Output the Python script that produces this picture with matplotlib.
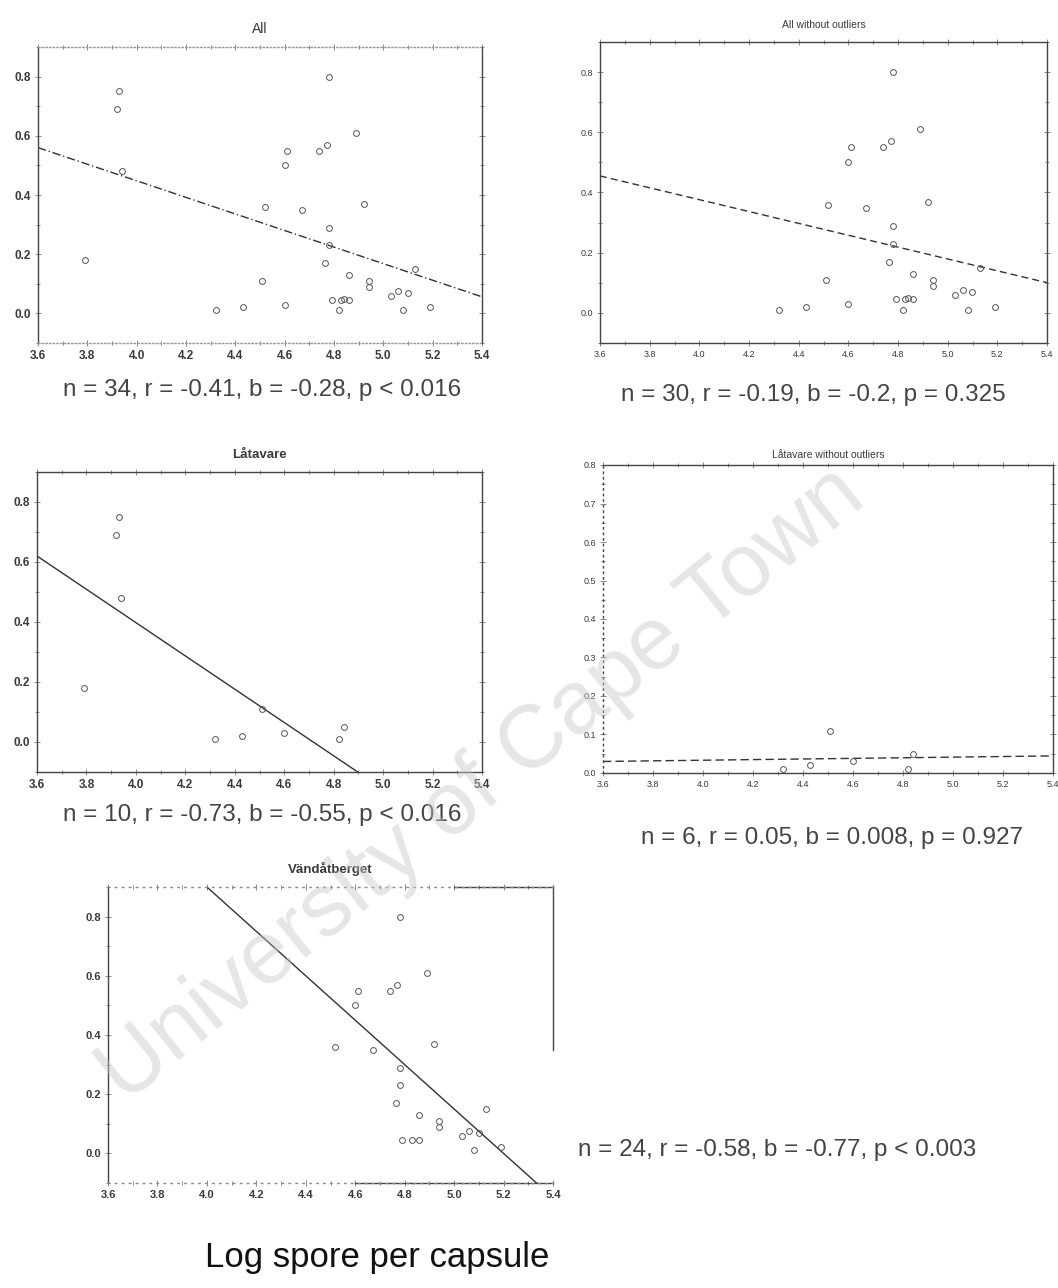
import matplotlib
matplotlib.use("Agg")
import matplotlib.pyplot as plt
import numpy as np

plt.rcParams['font.family'] = ['Liberation Sans', 'DejaVu Sans']

# ---------------- data ----------------
latavare_x = [3.79, 3.93, 3.92, 3.94, 4.51, 4.32, 4.43, 4.60, 4.82, 4.84]
latavare_y = [0.18, 0.75, 0.69, 0.48, 0.11, 0.01, 0.02, 0.03, 0.01, 0.05]
latavare_outlier = [True, True, True, True, False, False, False, False, False, False]

vand_x = [4.78, 4.89, 4.74, 4.77, 4.61, 4.60, 4.52, 4.67, 4.92, 4.78, 4.78, 4.765,
          4.86, 4.94, 4.94, 5.13, 5.10, 5.03, 5.08, 5.19, 4.79, 4.83, 4.86, 5.06]
vand_y = [0.80, 0.61, 0.55, 0.57, 0.55, 0.50, 0.36, 0.35, 0.37, 0.29, 0.23, 0.17,
          0.13, 0.11, 0.09, 0.15, 0.07, 0.06, 0.01, 0.02, 0.045, 0.045, 0.045, 0.075]

titles = ["All", "All without outliers", "Låtavare", "Låtavare without outliers", "Vändåtberget"]
stats = ["n = 34, r = -0.41, b = -0.28, p < 0.016",
         "n = 30, r = -0.19, b = -0.2, p = 0.325",
         "n = 10, r = -0.73, b = -0.55, p < 0.016",
         "n = 6, r = 0.05, b = 0.008, p = 0.927",
         "n = 24, r = -0.58, b = -0.77, p < 0.003"]
# regression lines: value at x = 3.6 and slope
fit_y36 = [0.56, 0.455, 0.62, 0.03, 1.20]
fit_slope = [-0.28, -0.197, -0.555, 0.008, -0.75]

xticks = [3.6, 3.8, 4.0, 4.2, 4.4, 4.6, 4.8, 5.0, 5.2, 5.4]
yticks_main = [0.0, 0.2, 0.4, 0.6, 0.8]
yticks_p4 = [0.0, 0.1, 0.2, 0.3, 0.4, 0.5, 0.6, 0.7, 0.8]
xlabel = "Log spore per capsule"
watermark = "University of Cape Town"

# ---------------- assemble subsets ----------------
all_x = np.array(latavare_x + vand_x)
all_y = np.array(latavare_y + vand_y)
all_out = np.array(latavare_outlier + [False] * len(vand_x))
lat_x = np.array(latavare_x); lat_y = np.array(latavare_y); lat_out = np.array(latavare_outlier)

datasets = [
    (all_x, all_y),
    (all_x[~all_out], all_y[~all_out]),
    (lat_x, lat_y),
    (lat_x[~lat_out], lat_y[~lat_out]),
    (np.array(vand_x), np.array(vand_y)),
]

W, H = 1058, 1288
fig = plt.figure(figsize=(W / 100, H / 100), dpi=100)
fig.patch.set_facecolor('white')

def rect(l, t, r, b):
    return [l / W, 1 - b / H, (r - l) / W, (b - t) / H]

rects = [rect(38, 47, 482, 343), rect(600, 42, 1047, 343), rect(37, 472, 482, 772),
         rect(603, 465, 1053, 773), rect(108, 887, 553, 1183)]
ylims = [(-0.1, 0.9), (-0.1, 0.9), (-0.1, 0.9), (0.0, 0.8), (-0.1, 0.9)]
line_styles = [(0, (6, 2, 1, 2)), (0, (5, 3)), '-', (0, (6, 3)), '-']
title_sizes = [10, 7.5, 9.5, 7.5, 9.5]
tick_sizes = [8.5, 6.5, 8.5, 6.5, 8]
tick_weights = ['bold', 'normal', 'bold', 'normal', 'bold']
gray = '#3a3a3a'

axes = []
for i, (x, y) in enumerate(datasets):
    ax = fig.add_axes(rects[i])
    axes.append(ax)
    ax.set_xlim(3.6, 5.4)
    ax.set_ylim(*ylims[i])
    ax.plot(x, y, 'o', mfc='none', mec='#555555', ms=4.2, mew=0.7, zorder=3)
    xs = np.linspace(3.6, 5.4, 200)
    ys = fit_y36[i] + fit_slope[i] * (xs - 3.6)
    ax.plot(xs, ys, color='#333333', lw=1.0, linestyle=line_styles[i], zorder=2)
    ax.set_xticks(xticks)
    ax.set_xticklabels([f"{v:.1f}" for v in xticks])
    yt = yticks_p4 if i == 3 else yticks_main
    ax.set_yticks(yt)
    ax.set_yticklabels([f"{v:.1f}" for v in yt])
    ax.set_xticks(np.arange(3.7, 5.4, 0.2), minor=True)
    ax.set_yticks(np.arange(ylims[i][0], ylims[i][1] + 1e-9, 0.1 if i != 3 else 0.05), minor=True)
    ax.tick_params(which='both', direction='inout', top=True, right=(i != 4),
                   length=4, width=0.6, color='#777777', labelcolor=gray,
                   labelsize=tick_sizes[i], pad=3)
    ax.tick_params(which='minor', length=3)
    for lab in ax.get_xticklabels() + ax.get_yticklabels():
        lab.set_fontweight(tick_weights[i])
    for s in ax.spines.values():
        s.set_color('#444444')
        s.set_linewidth(1.0)
    ax.set_title(titles[i], fontsize=title_sizes[i], color=gray,
                 fontweight='bold' if i in (2, 4) else 'normal', pad=10 if i != 3 else 5)

# scanned-look frames
for side in ('top', 'bottom'):
    axes[0].spines[side].set_linestyle(':')
    axes[0].spines[side].set_color('#999999')
axes[3].spines['left'].set_linestyle((0, (1, 3)))
axes[4].spines['top'].set_linestyle((0, (1, 4)))
axes[4].spines['top'].set_color('#888888')
axes[4].spines['bottom'].set_linestyle((0, (1, 4)))
axes[4].spines['bottom'].set_color('#888888')
axes[4].spines['right'].set_bounds(0.35, 0.9)
xa = axes[4].get_xaxis_transform()
axes[4].plot([5.0, 5.4], [1, 1], transform=xa, color='#444444', lw=1.0, clip_on=False)
axes[4].plot([4.6, 5.4], [0, 0], transform=xa, color='#444444', lw=1.0, clip_on=False)

# statistics text
stat_pos = [(262, 390, 'center'), (813, 395, 'center'), (262, 815, 'center'),
            (832, 838, 'center'), (578, 1150, 'left')]
for (px, py, ha), s in zip(stat_pos, stats):
    fig.text(px / W, 1 - py / H, s, ha=ha, va='center', fontsize=17.5, color='#444444')

fig.text(205 / W, 1 - 1258 / H, xlabel, ha='left', va='center', fontsize=25, color='#111111')

fig.text(482 / W, 1 - 785 / H, watermark, ha='center', va='center', rotation=39,
         fontsize=64, color='#c8c8c8', alpha=0.45, zorder=10)

fig.savefig("out.png", dpi=100, facecolor='white')
